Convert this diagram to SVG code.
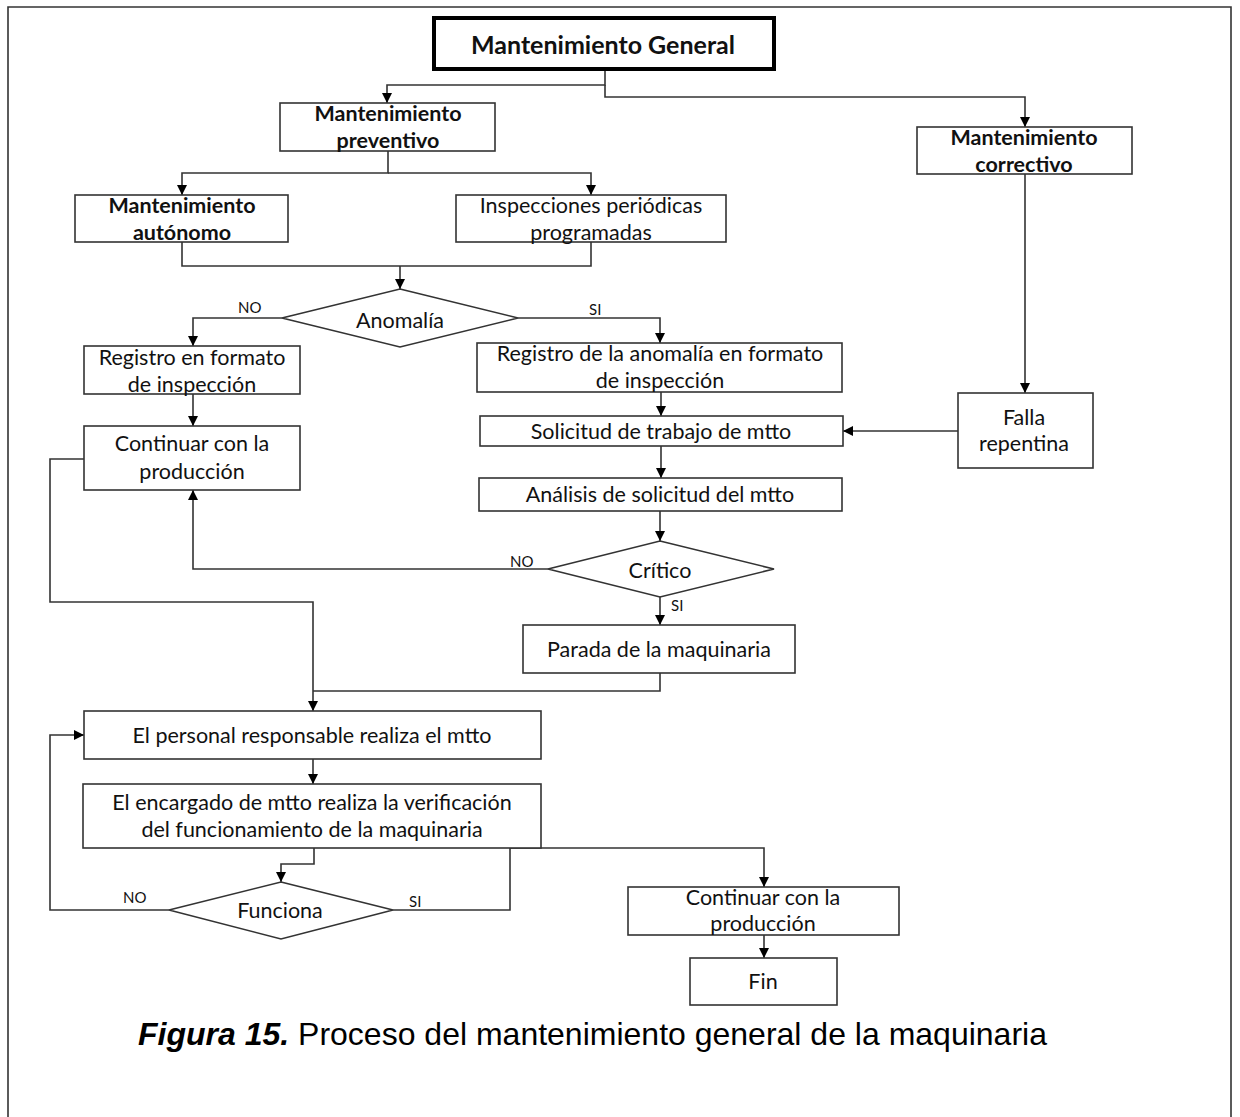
<svg xmlns="http://www.w3.org/2000/svg" width="1240" height="1117" viewBox="0 0 1240 1117">
  <style>
    .box { fill: #fff; stroke: #333; stroke-width: 1.6; }
    .main { fill: #fff; stroke: #000; stroke-width: 4; }
    .dia { fill: #fff; stroke: #333; stroke-width: 1.6; }
    .wire { fill: none; stroke: #333; stroke-width: 1.6; }
    .t { font-family: Lato, "Open Sans", sans-serif; font-size: 21.5px; fill: #111; text-anchor: middle; dominant-baseline: central; }
    .b { font-weight: bold; }
    .title { font-size: 25px; }
    .lbl { font-family: Lato, "Open Sans", sans-serif; font-size: 15px; fill: #111; }
    .cap { font-family: "Liberation Sans", Arial, sans-serif; font-size: 32px; fill: #000; }
  </style>
  <defs>
    <marker id="arr" viewBox="0 0 10 10" refX="10" refY="5" markerWidth="10" markerHeight="10" markerUnits="userSpaceOnUse" orient="auto">
      <path d="M0,0 L10,5 L0,10 z" fill="#000"/>
    </marker>
  </defs>

  <rect width="1240" height="1117" fill="#fff"/>
  <!-- page frame, open at the bottom -->
  <path d="M8,1117 V7 H1231 V1117" fill="none" stroke="#333" stroke-width="1.6"/>

  <!-- connectors -->
  <g id="connectors">
    <path class="wire" d="M605,69 V85 H387 V103" marker-end="url(#arr)"/>
    <path class="wire" d="M605,85 V97 H1025 V127" marker-end="url(#arr)"/>
    <path class="wire" d="M388,151 V173 H182 V195" marker-end="url(#arr)"/>
    <path class="wire" d="M388,173 H591 V195" marker-end="url(#arr)"/>
    <path class="wire" d="M182,242 V266 H591 V242"/>
    <path class="wire" d="M400,266 V289" marker-end="url(#arr)"/>
    <path class="wire" d="M282,318 H193 V346" marker-end="url(#arr)"/>
    <path class="wire" d="M518,318 H660 V343" marker-end="url(#arr)"/>
    <path class="wire" d="M193,394 V426" marker-end="url(#arr)"/>
    <path class="wire" d="M661,392 V416" marker-end="url(#arr)"/>
    <path class="wire" d="M1025,174 V393" marker-end="url(#arr)"/>
    <path class="wire" d="M958,431 H843" marker-end="url(#arr)"/>
    <path class="wire" d="M661,446 V478" marker-end="url(#arr)"/>
    <path class="wire" d="M660,511 V541" marker-end="url(#arr)"/>
    <path class="wire" d="M548,569 H193 V490" marker-end="url(#arr)"/>
    <path class="wire" d="M660,597 V625" marker-end="url(#arr)"/>
    <path class="wire" d="M84,459 H50 V602 H313 V711" marker-end="url(#arr)"/>
    <path class="wire" d="M660,673 V691 H313"/>
    <path class="wire" d="M313,759 V784" marker-end="url(#arr)"/>
    <path class="wire" d="M314,848 V864 H281 V882" marker-end="url(#arr)"/>
    <path class="wire" d="M169,910 H50 V735 H84" marker-end="url(#arr)"/>
    <path class="wire" d="M393,910 H510 V848 H764 V887" marker-end="url(#arr)"/>
    <path class="wire" d="M764,935 V958" marker-end="url(#arr)"/>
    <text class="lbl" x="238" y="313">NO</text>
    <text class="lbl" x="589" y="315">SI</text>
    <text class="lbl" x="510" y="567">NO</text>
    <text class="lbl" x="671" y="611">SI</text>
    <text class="lbl" x="123" y="903">NO</text>
    <text class="lbl" x="409" y="907">SI</text>
  </g>

  <g id="n-general">
    <rect class="main" x="434" y="18" width="340" height="51"/>
    <text class="t b title" x="603" y="44">Mantenimiento General</text>
  </g>
  <g id="n-preventivo">
    <rect class="box" x="280" y="103" width="215" height="48"/>
    <text class="t b" x="388" y="113">Mantenimiento</text>
    <text class="t b" x="388" y="140">preventivo</text>
  </g>
  <g id="n-correctivo">
    <rect class="box" x="917" y="127" width="215" height="47"/>
    <text class="t b" x="1024" y="137">Mantenimiento</text>
    <text class="t b" x="1024" y="164">correctivo</text>
  </g>
  <g id="n-autonomo">
    <rect class="box" x="75" y="195" width="213" height="47"/>
    <text class="t b" x="182" y="205">Mantenimiento</text>
    <text class="t b" x="182" y="232">autónomo</text>
  </g>
  <g id="n-inspecciones">
    <rect class="box" x="456" y="195" width="270" height="47"/>
    <text class="t" x="591" y="205">Inspecciones periódicas</text>
    <text class="t" x="591" y="232">programadas</text>
  </g>
  <g id="n-anomalia">
    <polygon class="dia" points="400,289 518,318 400,347 282,318"/>
    <text class="t" x="400" y="320">Anomalía</text>
  </g>
  <g id="n-registro-formato">
    <rect class="box" x="84" y="346" width="216" height="48"/>
    <text class="t" x="192" y="357">Registro en formato</text>
    <text class="t" x="192" y="384">de inspección</text>
  </g>
  <g id="n-continuar-1">
    <rect class="box" x="84" y="426" width="216" height="64"/>
    <text class="t" x="192" y="443">Continuar con la</text>
    <text class="t" x="192" y="471">producción</text>
  </g>
  <g id="n-registro-anomalia">
    <rect class="box" x="477" y="343" width="365" height="49"/>
    <text class="t" x="660" y="353">Registro de la anomalía en formato</text>
    <text class="t" x="660" y="380">de inspección</text>
  </g>
  <g id="n-solicitud">
    <rect class="box" x="480" y="416" width="363" height="30"/>
    <text class="t" x="661" y="431">Solicitud de trabajo de mtto</text>
  </g>
  <g id="n-falla">
    <rect class="box" x="958" y="393" width="135" height="75"/>
    <text class="t" x="1024" y="417">Falla</text>
    <text class="t" x="1024" y="443">repentina</text>
  </g>
  <g id="n-analisis">
    <rect class="box" x="479" y="478" width="363" height="33"/>
    <text class="t" x="660" y="494">Análisis de solicitud del mtto</text>
  </g>
  <g id="n-critico">
    <polygon class="dia" points="660,541 774,569 660,597 548,569"/>
    <text class="t" x="660" y="570">Crítico</text>
  </g>
  <g id="n-parada">
    <rect class="box" x="523" y="625" width="272" height="48"/>
    <text class="t" x="659" y="649">Parada de la maquinaria</text>
  </g>
  <g id="n-personal">
    <rect class="box" x="84" y="711" width="457" height="48"/>
    <text class="t" x="312" y="735">El personal responsable realiza el mtto</text>
  </g>
  <g id="n-encargado">
    <rect class="box" x="83" y="784" width="458" height="64"/>
    <text class="t" x="312" y="802">El encargado de mtto realiza la verificación</text>
    <text class="t" x="312" y="829">del funcionamiento de la maquinaria</text>
  </g>
  <g id="n-funciona">
    <polygon class="dia" points="281,882 393,910 281,939 169,910"/>
    <text class="t" x="280" y="910">Funciona</text>
  </g>
  <g id="n-continuar-2">
    <rect class="box" x="628" y="887" width="271" height="48"/>
    <text class="t" x="763" y="897">Continuar con la</text>
    <text class="t" x="763" y="923">producción</text>
  </g>
  <g id="n-fin">
    <rect class="box" x="690" y="958" width="147" height="47"/>
    <text class="t" x="763" y="981">Fin</text>
  </g>

  <text class="cap" x="138" y="1045"><tspan font-weight="bold" font-style="italic">Figura 15.</tspan> Proceso del mantenimiento general de la maquinaria</text>
</svg>
